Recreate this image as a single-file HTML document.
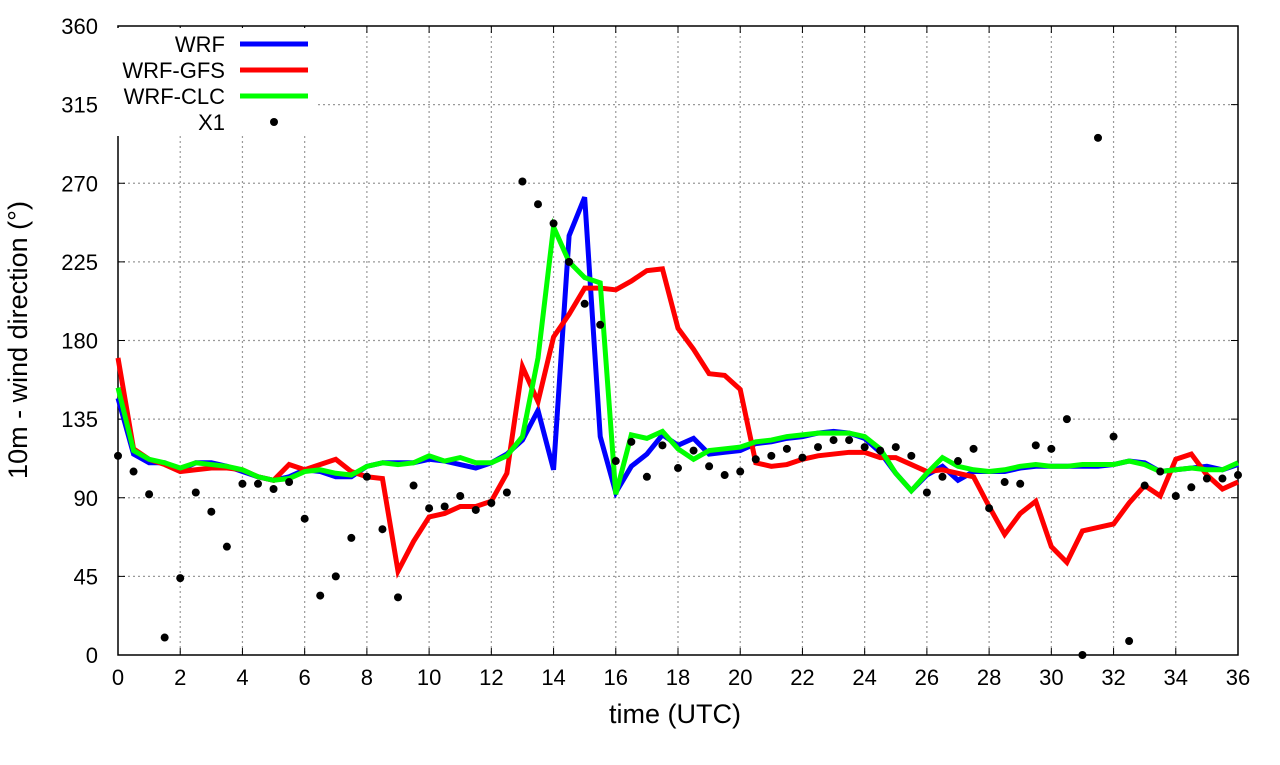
<!DOCTYPE html>
<html><head><meta charset="utf-8"><style>
body{margin:0;background:#fff}
svg text{font-family:"Liberation Sans",sans-serif;fill:#000}
</style></head><body>
<svg id="chart" width="1280" height="760"></svg>
<script>
const times=[];for(let i=0;i<=72;i++)times.push(i/2);
const xTicks=[0,2,4,6,8,10,12,14,16,18,20,22,24,26,28,30,32,34,36];
const yTicks=[0,45,90,135,180,225,270,315,360];
const wrf=[147,115,110,110,106,110,110,108,105,102,100,102,106,105,102,102,108,110,110,110,112,111,109,107,110,115,123,140,106,240,262,125,93,108,115,126,120,124,115,116,117,121,122,124,125,127,128,127,124,116,104,94,103,108,100,105,105,105,107,108,108,108,108,108,109,111,110,105,106,107,108,106,109];
const gfs=[170,118,112,109,105,106,107,107,106,102,100,109,106,109,112,105,102,101,48,65,79,81,85,85,88,104,165,145,182,195,210,210,209,214,220,221,187,175,161,160,152,110,108,109,112,114,115,116,116,113,113,109,105,106,104,102,85,69,81,88,62,53,71,73,75,87,97,91,112,115,103,95,99];
const clc=[153,117,112,110,107,110,109,108,106,102,100,101,105,106,104,103,108,110,109,110,114,111,113,110,110,114,125,170,245,225,216,213,92,126,124,128,118,112,117,118,119,122,123,125,126,127,127,127,125,118,104,94,104,113,108,106,105,106,108,109,108,108,109,109,109,111,109,105,106,107,106,106,110];
const obs=[114,105,92,10,44,93,82,62,98,98,95,99,78,34,45,67,102,72,33,97,84,85,91,83,87,93,271,258,247,225,201,189,111,122,102,120,107,117,108,103,105,112,114,118,113,119,123,123,119,117,119,114,93,102,111,118,84,99,98,120,118,135,0,296,125,8,97,105,91,96,101,101,103];
const NS="http://www.w3.org/2000/svg",svg=document.getElementById('chart');
const L=118,R=1238,T=26,B=655;
const xs=t=>L+(R-L)*t/36, ys=v=>B-(B-T)*v/360;
function mk(tag,at,parent){const e=document.createElementNS(NS,tag);for(const k in at)e.setAttribute(k,at[k]);(parent||svg).appendChild(e);return e;}
const grid=mk('g',{});
xTicks.forEach(t=>{const x=xs(t);
 if(t>0&&t<36)mk('line',{x1:x,y1:T,x2:x,y2:B,stroke:'#999','stroke-dasharray':'2,3','stroke-width':1.2},grid);
 mk('line',{x1:x,y1:B,x2:x,y2:B-7,stroke:'#000'});mk('line',{x1:x,y1:T,x2:x,y2:T+7,stroke:'#000'});
 const tx=mk('text',{x:x,y:B+30,'text-anchor':'middle','font-size':22});tx.textContent=t;
 
 });
yTicks.forEach(v=>{const y=ys(v);
 if(v>0&&v<360)mk('line',{x1:L,y1:y,x2:R,y2:y,stroke:'#999','stroke-dasharray':'2,3','stroke-width':1.2},grid);
 mk('line',{x1:L,y1:y,x2:L+7,y2:y,stroke:'#000'});mk('line',{x1:R,y1:y,x2:R-7,y2:y,stroke:'#000'});
 const tx=mk('text',{x:L-20,y:y+8,'text-anchor':'end','font-size':22});tx.textContent=v;
 
 });
const fr=mk('rect',{x:L,y:T,width:R-L,height:B-T,fill:'none',stroke:'#000','stroke-width':1.5});


mk('rect',{x:110,y:28,width:205,height:108,fill:'#fff'});
function series(arr,col,name){const p=mk('polyline',{points:arr.map((v,i)=>xs(times[i])+','+ys(v)).join(' '),fill:'none',stroke:col,'stroke-width':5,'stroke-linejoin':'miter'});
 
 }
series(wrf,'#0000ff','wrf-line');series(gfs,'#ff0000','wrf-gfs-line');series(clc,'#00ff00','wrf-clc-line');
const og=mk('g',{});
obs.forEach((v,i)=>{const c=mk('circle',{cx:xs(times[i]),cy:ys(v),r:4,fill:'#000'},og);
 
 });
const leg=[['WRF','#0000ff'],['WRF-GFS','#ff0000'],['WRF-CLC','#00ff00'],['X1',null]];
leg.forEach((e,i)=>{const y=44+i*26;
 const g=mk('g',{});
 const t=mk('text',{x:225,y:y+8,'text-anchor':'end','font-size':22},g);t.textContent=e[0];
 if(e[1])mk('line',{x1:240,y1:y,x2:308,y2:y,stroke:e[1],'stroke-width':5},g);
 else mk('circle',{cx:274,cy:y,r:4,fill:'#000'},g);});
const xl=mk('text',{x:675,y:723,'text-anchor':'middle','font-size':27});xl.textContent='time (UTC)';

const yl=mk('text',{x:0,y:0,'text-anchor':'middle','font-size':27,transform:'translate(27,340) rotate(-90)'});yl.textContent='10m - wind direction (°)';

</script>
</body></html>
